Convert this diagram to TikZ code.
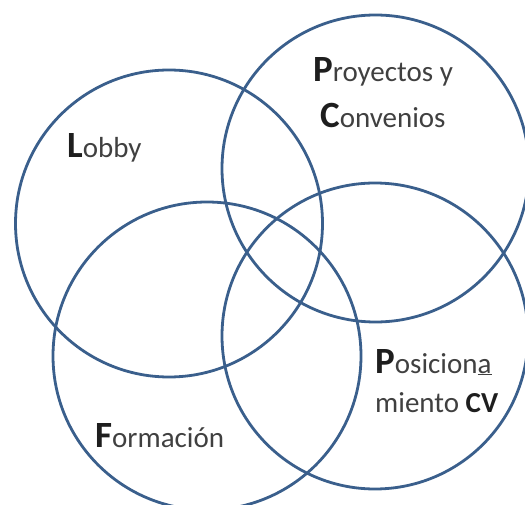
\documentclass[tikz,border=0pt]{standalone}
\usepackage{fontspec}
\setmainfont{Carlito}
\begin{document}
\begin{tikzpicture}[x=1pt,y=-1pt,
  ring/.style={circle, draw=ringblue, line width=2.8pt, inner sep=0pt, outer sep=0pt},
  lbl/.style={anchor=base west, inner sep=0pt, text=txtgray, font=\fontsize{29}{34}\selectfont},
]
\definecolor{ringblue}{HTML}{3A5F8C}
\definecolor{txtgray}{HTML}{404040}
\definecolor{capblack}{HTML}{1E1E1E}
\newcommand{\initcap}[1]{{\color{capblack}\bfseries\fontsize{37}{40}\selectfont #1}}
\useasboundingbox (0,0) rectangle (525,505);
\node[ring, minimum size=307pt] (lobby) at (169,223.5) {};
\node[ring, minimum size=307pt] (proy) at (375.5,168.5) {};
\node[ring, minimum size=308pt] (form) at (207,356) {};
\node[ring, minimum size=306pt] (posi) at (375,336) {};
\node[lbl] (tlobby) at (67,158) {\initcap{L}obby};
\node[lbl] (tproy1) at (313,82) {\initcap{P}royectos y};
\node[lbl] (tproy2) at (320,128) {\initcap{C}onvenios};
\node[lbl] (tform) at (95,447) {\initcap{F}ormación};
\node[lbl] (tpos1) at (375,373) {\initcap{P}osicion\underline{a}};
\node[lbl] (tpos2) at (375,412) {miento {\color{capblack}\bfseries CV}};
\end{tikzpicture}
\end{document}
